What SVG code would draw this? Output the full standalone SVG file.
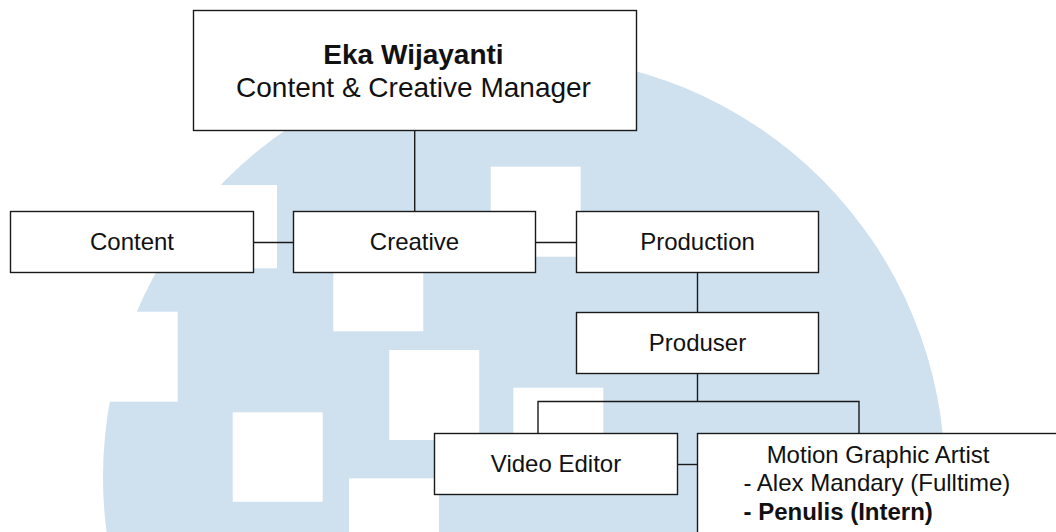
<svg xmlns="http://www.w3.org/2000/svg" width="1056" height="532" viewBox="0 0 1056 532">
  <style>
    .box { fill: #ffffff; stroke: #1a1a1a; stroke-width: 1.4; }
    .edge { fill: none; stroke: #1a1a1a; stroke-width: 1.4; }
    .t { font-family: "Liberation Sans", Arial, Helvetica, sans-serif; font-size: 24px; fill: #111111; }
    .c { text-anchor: middle; }
    .big { font-size: 28px; }
    .b { font-weight: bold; }
    .wm { fill: #cfe0ef; }
    .hole { fill: #ffffff; }
  </style>
  <rect x="0" y="0" width="1056" height="532" fill="#ffffff"/>
  <g id="watermark">
    <circle class="wm" cx="524" cy="477" r="421"/>
    <rect class="hole" x="0" y="185" width="277" height="83.3"/>
    <rect class="hole" x="0" y="311.7" width="177.7" height="90"/>
    <rect class="hole" x="490.7" y="166.7" width="90" height="90"/>
    <rect class="hole" x="333.3" y="241.3" width="90" height="90"/>
    <rect class="hole" x="389.3" y="350" width="90" height="90"/>
    <rect class="hole" x="232.7" y="412.3" width="90" height="89.5"/>
    <rect class="hole" x="349" y="478.3" width="90" height="90"/>
    <rect class="hole" x="513.3" y="387.7" width="90" height="90"/>
  </g>
  <g id="connectors">
    <path class="edge" d="M414.7 130.5 V211.5"/>
    <path class="edge" d="M253.5 242.5 H293.5"/>
    <path class="edge" d="M535.5 242.5 H576.5"/>
    <path class="edge" d="M697.5 272.5 V312.5"/>
    <path class="edge" d="M697.5 373.5 V401.5"/>
    <path class="edge" d="M538 433.5 V401.5 H859 V433.5"/>
    <path class="edge" d="M677.5 464.5 H697.5"/>
  </g>
  <g id="manager">
    <rect class="box" x="193.5" y="10.5" width="443" height="120"/>
    <text class="t big b c" x="413.5" y="63.5">Eka Wijayanti</text>
    <text class="t big c" x="413.5" y="96.5">Content &amp; Creative Manager</text>
  </g>
  <g id="content">
    <rect class="box" x="10.5" y="211.5" width="243" height="61"/>
    <text class="t c" x="132" y="250">Content</text>
  </g>
  <g id="creative">
    <rect class="box" x="293.5" y="211.5" width="242" height="61"/>
    <text class="t c" x="414.5" y="250">Creative</text>
  </g>
  <g id="production">
    <rect class="box" x="576.5" y="211.5" width="242" height="61"/>
    <text class="t c" x="697.5" y="250">Production</text>
  </g>
  <g id="produser">
    <rect class="box" x="576.5" y="312.5" width="242" height="61"/>
    <text class="t c" x="697.5" y="350.5">Produser</text>
  </g>
  <g id="video-editor">
    <rect class="box" x="434.5" y="433.5" width="243" height="61"/>
    <text class="t c" x="556" y="471.5">Video Editor</text>
  </g>
  <g id="motion-graphic-artist">
    <rect class="box" x="697.5" y="433.5" width="362" height="140"/>
    <text class="t c" x="878" y="462.5">Motion Graphic Artist</text>
    <text class="t" x="743.5" y="491">- Alex Mandary (Fulltime)</text>
    <text class="t b" x="743.5" y="519.5">- Penulis (Intern)</text>
  </g>
</svg>
